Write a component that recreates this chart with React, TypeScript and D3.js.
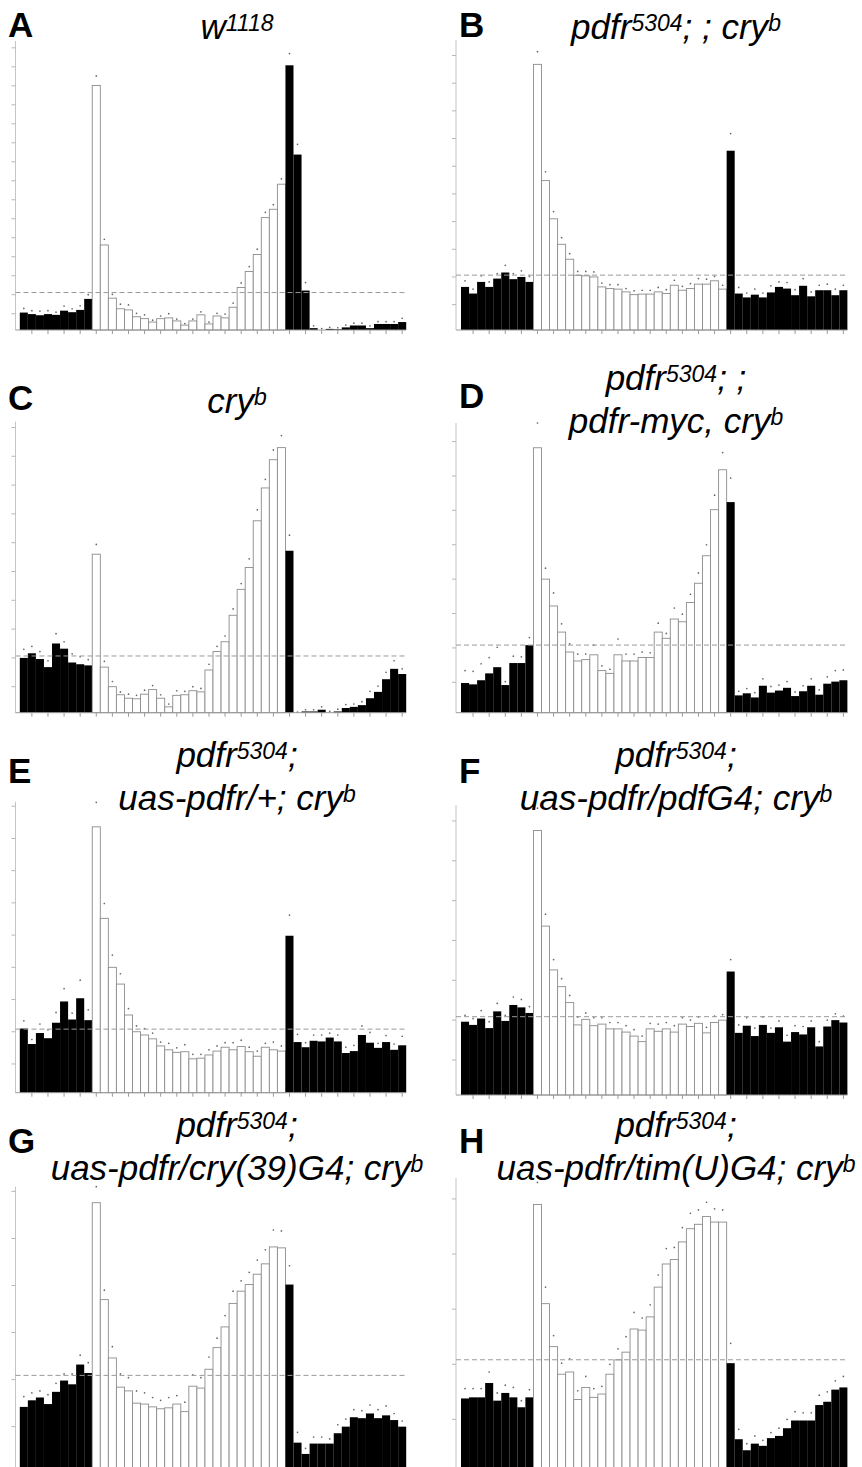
import React from 'react';
import * as d3 from 'd3';

// ---------- data ----------
const N_BINS = 48;            // 30-min bins
const LIGHTS_ON = 9;          // first light bin
const LIGHTS_OFF = 33;        // first dark bin after the light phase
const TICK_STEP = 0.5;

const letters = ['A', 'B', 'C', 'D', 'E', 'F', 'G', 'H'];

const titleA = ['w<1118>'];
const titleB = ['pdfr<5304>; ; cry<b>'];
const titleC = ['cry<b>'];
const titleD = ['pdfr<5304>; ;', 'pdfr-myc, cry<b>'];
const titleE = ['pdfr<5304>;', 'uas-pdfr/+; cry<b>'];
const titleF = ['pdfr<5304>;', 'uas-pdfr/pdfG4; cry<b>'];
const titleG = ['pdfr<5304>;', 'uas-pdfr/cry(39)G4; cry<b>'];
const titleH = ['pdfr<5304>;', 'uas-pdfr/tim(U)G4; cry<b>'];

const valuesA = [0.53,0.49,0.46,0.49,0.47,0.58,0.54,0.60,0.89, 6.51,2.31,0.91,0.63,0.60,0.42,0.37,0.28,0.37,0.39,0.31,0.20,0.31,0.47,0.23,0.44,0.39,0.67,1.19,1.61,2.06,3.03,3.25,3.91, 7.04,4.69,1.11,0.12,0.07,0.10,0.09,0.14,0.19,0.19,0.12,0.23,0.23,0.23,0.28];
const semA = [0.11,0.09,0.11,0.09,0.07,0.12,0.09,0.11,0.11, 0.25,0.15,0.10,0.12,0.13,0.09,0.10,0.05,0.07,0.11,0.05,0.04,0.05,0.08,0.05,0.07,0.10,0.11,0.12,0.13,0.14,0.14,0.12,0.14, 0.31,0.27,0.21,0.06,0.04,0.04,0.04,0.06,0.06,0.06,0.06,0.06,0.06,0.06,0.10];

const valuesB = [0.82,0.70,0.91,0.82,0.97,1.08,0.96,1.00,0.91, 4.84,2.74,2.05,1.59,1.32,1.03,1.02,1.00,0.82,0.79,0.78,0.73,0.68,0.69,0.69,0.73,0.70,0.85,0.76,0.79,0.87,0.87,0.93,0.78, 3.28,0.70,0.63,0.68,0.63,0.72,0.82,0.79,0.67,0.84,0.65,0.76,0.76,0.67,0.76];
const semB = [0.11,0.08,0.11,0.09,0.09,0.13,0.10,0.11,0.10, 0.23,0.16,0.13,0.12,0.10,0.07,0.08,0.09,0.07,0.07,0.08,0.06,0.07,0.07,0.07,0.08,0.07,0.09,0.07,0.09,0.10,0.09,0.08,0.07, 0.31,0.11,0.08,0.10,0.08,0.12,0.09,0.11,0.10,0.13,0.08,0.09,0.11,0.11,0.09];

const valuesC = [1.00,1.08,0.98,0.84,1.25,1.16,0.92,0.89,0.87, 2.80,0.84,0.50,0.36,0.30,0.29,0.37,0.45,0.30,0.15,0.35,0.36,0.43,0.41,0.79,1.11,1.28,1.74,2.19,2.57,3.38,3.95,4.44,4.65, 2.86,0.04,0.07,0.07,0.10,0.05,0.07,0.13,0.15,0.18,0.30,0.41,0.63,0.81,0.72];
const semC = [0.15,0.12,0.13,0.11,0.17,0.12,0.15,0.13,0.10, 0.17,0.10,0.09,0.05,0.07,0.06,0.07,0.07,0.06,0.05,0.08,0.06,0.07,0.06,0.10,0.09,0.10,0.11,0.10,0.15,0.19,0.15,0.17,0.21, 0.27,0.02,0.03,0.03,0.05,0.02,0.04,0.06,0.05,0.06,0.12,0.10,0.12,0.14,0.09];

const valuesD = [0.49,0.47,0.53,0.63,0.72,0.46,0.78,0.78,1.04, 3.91,2.00,1.61,1.23,0.94,0.81,0.83,0.90,0.67,0.63,0.90,0.81,0.81,0.86,0.86,1.23,1.14,1.42,1.38,1.66,1.94,2.34,3.01,3.59, 3.12,0.31,0.34,0.28,0.45,0.35,0.38,0.42,0.30,0.37,0.45,0.32,0.48,0.51,0.53];
const semD = [0.18,0.19,0.24,0.23,0.29,0.05,0.10,0.09,0.11, 0.36,0.16,0.19,0.12,0.12,0.10,0.08,0.14,0.07,0.06,0.23,0.10,0.10,0.08,0.07,0.13,0.07,0.16,0.11,0.12,0.15,0.16,0.21,0.25, 0.35,0.06,0.07,0.07,0.10,0.09,0.08,0.09,0.06,0.08,0.10,0.07,0.10,0.16,0.15];

const valuesE = [1.05,0.81,0.98,0.90,1.14,1.47,1.19,1.52,1.18, 4.18,2.76,2.00,1.74,1.26,1.00,0.95,0.89,0.78,0.72,0.68,0.69,0.58,0.59,0.64,0.70,0.76,0.72,0.77,0.69,0.62,0.76,0.72,0.70, 2.49,0.84,0.76,0.86,0.85,0.91,0.85,0.67,0.70,0.95,0.83,0.75,0.84,0.72,0.79];
const semE = [0.12,0.07,0.14,0.13,0.16,0.20,0.10,0.28,0.16, 0.38,0.23,0.19,0.16,0.10,0.09,0.10,0.09,0.06,0.10,0.07,0.11,0.07,0.06,0.08,0.08,0.07,0.11,0.10,0.07,0.08,0.06,0.12,0.08, 0.32,0.12,0.07,0.09,0.10,0.07,0.10,0.09,0.09,0.14,0.16,0.07,0.10,0.09,0.14];

const valuesF = [0.98,0.94,1.02,0.90,1.11,0.99,1.19,1.16,1.09, 3.38,2.18,1.63,1.42,1.22,0.94,1.01,0.93,0.95,0.89,0.89,0.85,0.80,0.73,0.89,0.86,0.89,0.85,0.95,0.92,0.96,0.84,0.97,1.00, 1.61,0.84,0.93,0.80,0.94,0.84,0.91,0.73,0.85,0.82,0.91,0.67,0.92,1.00,0.97];
const semF = [0.08,0.08,0.10,0.08,0.10,0.07,0.10,0.10,0.08, 0.28,0.15,0.13,0.10,0.09,0.10,0.08,0.10,0.08,0.08,0.08,0.08,0.08,0.07,0.07,0.09,0.08,0.08,0.08,0.08,0.08,0.07,0.08,0.07, 0.15,0.10,0.10,0.10,0.10,0.06,0.08,0.08,0.08,0.10,0.08,0.06,0.08,0.08,0.08];

const valuesG = [0.71,0.78,0.81,0.74,0.87,0.99,0.95,1.16,1.07, 2.88,1.85,1.23,0.92,0.88,0.75,0.74,0.71,0.69,0.70,0.74,0.66,0.93,0.91,1.11,1.34,1.56,1.81,1.94,2.01,2.12,2.23,2.41,2.40, 2.01,0.33,0.21,0.32,0.32,0.32,0.43,0.50,0.60,0.59,0.64,0.59,0.62,0.57,0.50];
const semG = [0.11,0.08,0.07,0.10,0.09,0.07,0.11,0.10,0.11, 0.17,0.10,0.12,0.14,0.14,0.13,0.12,0.10,0.09,0.11,0.09,0.10,0.12,0.11,0.13,0.10,0.12,0.13,0.11,0.13,0.15,0.15,0.18,0.18, 0.20,0.11,0.06,0.07,0.07,0.05,0.09,0.08,0.08,0.08,0.09,0.09,0.10,0.07,0.06];

const valuesH = [0.69,0.70,0.70,0.83,0.67,0.74,0.70,0.61,0.70, 2.45,1.55,1.16,0.91,0.93,0.68,0.79,0.70,0.73,0.91,1.04,1.11,1.32,1.31,1.43,1.70,1.91,1.95,2.11,2.23,2.27,2.34,2.29,2.29, 1.01,0.32,0.22,0.28,0.26,0.33,0.35,0.42,0.49,0.49,0.49,0.63,0.66,0.77,0.79];
const semH = [0.09,0.08,0.08,0.10,0.07,0.07,0.09,0.06,0.07, 0.20,0.15,0.10,0.10,0.12,0.08,0.10,0.08,0.07,0.09,0.10,0.14,0.15,0.11,0.11,0.11,0.14,0.11,0.13,0.14,0.13,0.13,0.12,0.11, 0.18,0.09,0.06,0.07,0.05,0.05,0.07,0.08,0.08,0.07,0.07,0.09,0.09,0.08,0.10];

// axis maximum of each panel (value at the top of the y axis)
const yMaxes = [7.68, 5.28, 5.10, 4.27, 4.57, 3.70, 3.05, 2.69];

const titles = [titleA, titleB, titleC, titleD, titleE, titleF, titleG, titleH];
const values = [valuesA, valuesB, valuesC, valuesD, valuesE, valuesF, valuesG, valuesH];
const sems = [semA, semB, semC, semD, semE, semF, semG, semH];

// ---------- layout ----------
const W = 862;
const H = 1467;
const PLOT_W = 386.4;
const COLS = [
  { axisX: 15.5, barX: 19.8, letterX: 8, titleX: 237 },
  { axisX: 456, barX: 461, letterX: 459, titleX: 676 },
];
// top of axis, pixel of value 0, pixel of x-axis line, title last-line baseline, letter baseline
const ROWS = [
  { top: 41, zero: 332.7, base: 330, titleY: 39, letterY: 37 },
  { top: 40, zero: 332.3, base: 330, titleY: 39, letterY: 37 },
  { top: 421.7, zero: 715.5, base: 712.7, titleY: 413, letterY: 410 },
  { top: 423, zero: 716.7, base: 712.7, titleY: 433, letterY: 408 },
  { top: 801.7, zero: 1096.2, base: 1092.7, titleY: 810, letterY: 783 },
  { top: 805, zero: 1099.8, base: 1095, titleY: 810, letterY: 783 },
  { top: 1186.7, zero: 1473.7, base: 1468.5, titleY: 1180, letterY: 1153 },
  { top: 1178, zero: 1474.5, base: 1468.5, titleY: 1180, letterY: 1153 },
];
const LINE_GAP = 43;
const FONT = '"Liberation Sans", Arial, Helvetica, sans-serif';

function TitleLine({ text, x, y }: { text: string; x: number; y: number }) {
  const parts = text.split(/(<[^>]+>)/).filter((p) => p.length > 0);
  const out: React.ReactNode[] = [];
  let raised = false;
  parts.forEach((p, i) => {
    if (p.startsWith('<')) {
      out.push(
        <tspan key={i} fontSize={23} dy={-8}>{p.slice(1, -1)}</tspan>
      );
      raised = true;
    } else {
      out.push(
        <tspan key={i} dy={raised ? 8 : 0}>{p}</tspan>
      );
      raised = false;
    }
  });
  return (
    <text x={x} y={y} textAnchor="middle" fontFamily={FONT} fontStyle="italic" fontSize={35} fill="#000" style={{ whiteSpace: 'pre' }}>
      {out}
    </text>
  );
}

function Panel({ i }: { i: number }) {
  const col = COLS[i % 2];
  const row = ROWS[i];
  const vals = values[i];
  const sem = sems[i];
  const x = d3.scaleBand<number>().domain(d3.range(N_BINS)).range([col.barX, col.barX + PLOT_W]).paddingInner(0).paddingOuter(0);
  const y = d3.scaleLinear().domain([0, yMaxes[i]]).range([row.zero, row.top]);
  const bw = x.bandwidth();
  const ticks = d3.range(TICK_STEP, yMaxes[i] + 1e-9, TICK_STEP);
  const mean = d3.mean(vals) as number;
  const right = col.barX + PLOT_W;
  const lines = titles[i];

  return (
    <g>
      {/* y axis */}
      <line x1={col.axisX} x2={col.axisX} y1={row.top} y2={row.base} stroke="#c4c4c4" strokeWidth={1} />
      {ticks.map((t) => (
        <line key={t} x1={col.axisX - 4} x2={col.axisX} y1={y(t)} y2={y(t)} stroke="#b8b8b8" strokeWidth={1} />
      ))}
      {/* bars */}
      {vals.map((v, k) => {
        const light = k >= LIGHTS_ON && k < LIGHTS_OFF;
        const yt = Math.min(y(v), row.base);
        return (
          <rect key={k} x={x(k)!} y={yt} width={bw} height={row.base - yt}
            fill={light ? '#fff' : '#000'}
            stroke={light ? '#8c8c8c' : 'none'} strokeWidth={light ? 0.9 : 0} />
        );
      })}
      {/* SEM dots */}
      {vals.map((v, k) => (
        <circle key={'d' + k} cx={x(k)! + bw / 2} cy={y(v + sem[k])} r={0.85} fill="#666" />
      ))}
      {/* mean line */}
      <line x1={col.axisX} x2={right} y1={y(mean)} y2={y(mean)} stroke="#9a9a9a" strokeWidth={1} strokeDasharray="5,3" />
      {/* x axis */}
      <line x1={col.axisX} x2={right} y1={row.base} y2={row.base} stroke="#9a9a9a" strokeWidth={1} />
      {d3.range(1, N_BINS, 2).map((k) => (
        <line key={'t' + k} x1={x(k)! + bw / 2} x2={x(k)! + bw / 2} y1={row.base} y2={row.base + 4} stroke="#9a9a9a" strokeWidth={1} />
      ))}
      {/* panel letter */}
      <text x={col.letterX} y={row.letterY} fontFamily={FONT} fontWeight="bold" fontSize={35} fill="#000">{letters[i]}</text>
      {/* title */}
      {lines.map((ln, li) => (
        <TitleLine key={li} text={ln} x={col.titleX} y={row.titleY - (lines.length - 1 - li) * LINE_GAP} />
      ))}
    </g>
  );
}

export default function App() {
  return (
    <div style={{ position: 'absolute', left: 0, top: 0, width: W, height: H, overflow: 'hidden', background: '#fff' }}>
      <svg width={W} height={H} viewBox={`0 0 ${W} ${H}`} style={{ display: 'block' }}>
        <rect width={W} height={H} fill="#fff" />
        {d3.range(8).map((i) => <Panel key={i} i={i} />)}
      </svg>
    </div>
  );
}
